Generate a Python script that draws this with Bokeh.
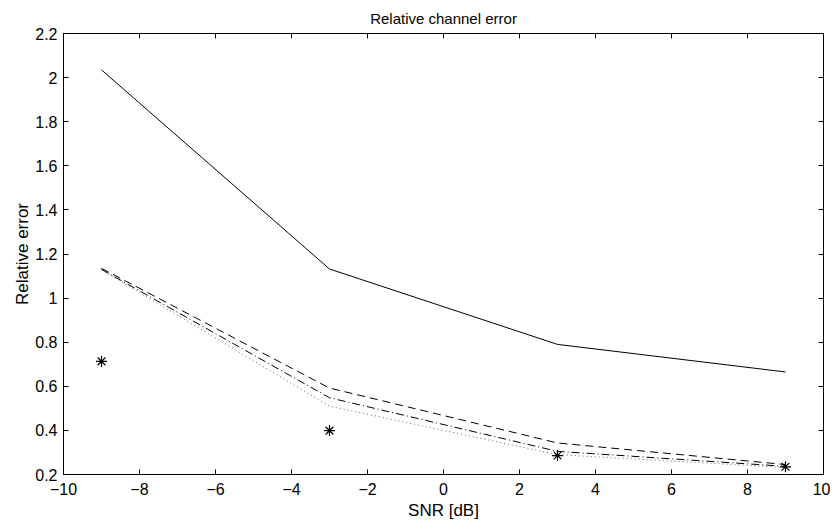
from bokeh.plotting import figure
from bokeh.models import LinearAxis, Range1d, FixedTicker, Title
from bokeh.embed import file_html
from bokeh.resources import INLINE

snr = [-9, -3, 3, 9]
err_solid = [2.035, 1.132, 0.79, 0.665]
err_dashed = [1.135, 0.592, 0.343, 0.245]
err_dashdot = [1.13, 0.548, 0.305, 0.237]
err_dotted = [1.128, 0.51, 0.29, 0.232]
err_star = [0.713, 0.399, 0.286, 0.235]

x_ticks = [-10, -8, -6, -4, -2, 0, 2, 4, 6, 8, 10]
x_tick_labels = ["\u221210", "\u22128", "\u22126", "\u22124", "\u22122", "0", "2", "4", "6", "8", "10"]
y_ticks = [0.2, 0.4, 0.6, 0.8, 1.0, 1.2, 1.4, 1.6, 1.8, 2.0, 2.2]
y_tick_labels = ["0.2", "0.4", "0.6", "0.8", "1", "1.2", "1.4", "1.6", "1.8", "2", "2.2"]

FONT = "Liberation Sans"

p = figure(width=830, height=522, output_backend="svg", toolbar_location=None,
           x_range=Range1d(-10, 10), y_range=Range1d(0.2, 2.2),
           min_border_left=63, min_border_right=7, min_border_top=33, min_border_bottom=47,
           x_axis_label="SNR [dB]", y_axis_label="Relative error")
p.title = Title(text="Relative channel error", align="center", text_font=FONT,
                text_font_size="15px", text_font_style="normal", text_color="black",
                standoff=14)
p.grid.visible = False
p.outline_line_color = "black"
p.background_fill_color = "white"
p.border_fill_color = "white"

def style_axis(ax, ticks, labels, show_labels=True):
    ax.ticker = FixedTicker(ticks=ticks)
    ax.major_tick_in = 5
    ax.major_tick_out = 0
    ax.minor_tick_line_color = None
    ax.axis_line_color = "black"
    ax.major_tick_line_color = "black"
    if show_labels:
        ax.major_label_overrides = {t: l for t, l in zip(ticks, labels)}
        ax.major_label_text_font = FONT
        ax.major_label_text_font_size = "16px"
        ax.major_label_text_color = "black"
        ax.axis_label_text_font = FONT
        ax.axis_label_text_font_size = "17px"
        ax.axis_label_text_font_style = "normal"
        ax.axis_label_text_color = "black"
    else:
        ax.major_label_text_color = None
        ax.major_label_standoff = 0

style_axis(p.xaxis[0], x_ticks, x_tick_labels)
style_axis(p.yaxis[0], y_ticks, y_tick_labels)
p.xaxis[0].major_label_standoff = 8
p.xaxis[0].axis_label_standoff = 3
p.yaxis[0].major_label_standoff = 6
p.yaxis[0].axis_label_standoff = 0

top_ax = LinearAxis()
style_axis(top_ax, x_ticks, x_tick_labels, show_labels=False)
p.add_layout(top_ax, "above")
right_ax = LinearAxis()
style_axis(right_ax, y_ticks, y_tick_labels, show_labels=False)
p.add_layout(right_ax, "right")

p.line(snr, err_solid, line_color="black", line_width=1)
p.line(snr, err_dashed, line_color="black", line_width=1, line_dash="8 5")
p.line(snr, err_dashdot, line_color="black", line_width=1, line_dash="8 3 1 3")
p.line(snr, err_dotted, line_color="#666666", line_width=1, line_dash="1 3")
p.scatter(snr, err_star, marker="asterisk", size=11, line_color="black", line_width=1.2)

open("out.html", "w").write(file_html(p, INLINE))
